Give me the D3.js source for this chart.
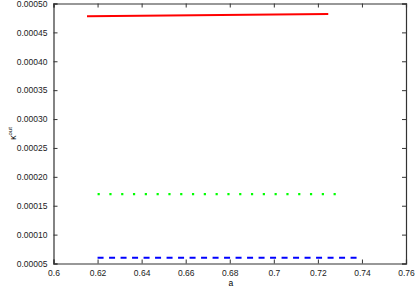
<!DOCTYPE html>
<html>
<head>
<meta charset="utf-8">
<script src="https://cdn.jsdelivr.net/npm/d3@7"></script>
<style>
body { margin: 0; background: #fff; }
svg { font-family: "Liberation Sans", Arial, sans-serif; }
.axis text { font-size: 8.5px; fill: #222; }
.axis path, .axis line { stroke: #333; }
</style>
</head>
<body>
<svg width="415" height="288"></svg>
<script>
var xTicks = [0.6, 0.62, 0.64, 0.66, 0.68, 0.7, 0.72, 0.74, 0.76],
	yTicks = [0.00005, 0.0001, 0.00015, 0.0002, 0.00025, 0.0003, 0.00035, 0.0004, 0.00045, 0.0005];

// three series
var redA = [0.6152, 0.7247],
	redK = [0.000478, 0.000482],
	greenA = [0.62, 0.7282],
	greenK = [0.00017, 0.00017],
	blueA = [0.62, 0.74],
	blueK = [0.00006, 0.00006];

var svg = d3.select("svg"),
	margin = {top: 3.5, right: 9, bottom: 24.5, left: 53.5},
	width = 415 - margin.left - margin.right,
	height = 288 - margin.top - margin.bottom;

var x = d3.scaleLinear().domain([0.6, 0.76]).range([0, width]),
	y = d3.scaleLinear().domain([0.00005, 0.0005]).range([height, 0]);

var g = svg.append("g")
	.attr("transform", "translate(" + margin.left + "," + margin.top + ")");

// axes, ticks on all four sides pointing in
g.append("g")
	.attr("class", "axis")
	.attr("transform", "translate(0," + height + ")")
	.call(d3.axisBottom(x).tickValues(xTicks).tickSize(-4).tickPadding(6).tickFormat(d3.format("")));

g.append("g")
	.attr("class", "axis")
	.call(d3.axisLeft(y).tickValues(yTicks).tickSize(-4).tickPadding(6).tickFormat(d3.format(".5f")));

g.append("g")
	.attr("class", "axis")
	.call(d3.axisTop(x).tickValues(xTicks).tickSize(-4).tickFormat(""));

g.append("g")
	.attr("class", "axis")
	.attr("transform", "translate(" + width + ",0)")
	.call(d3.axisRight(y).tickValues(yTicks).tickSize(-4).tickFormat(""));

g.selectAll(".axis path").attr("stroke-width", 1.2);

// axis titles
svg.append("text")
	.attr("x", margin.left + width / 2 + 1)
	.attr("y", 286)
	.attr("text-anchor", "middle")
	.style("font-size", "8.5px")
	.text("a");

var yl = svg.append("text")
	.attr("transform", "translate(16," + (margin.top + height / 2) + ") rotate(-90)")
	.attr("text-anchor", "middle")
	.style("font-size", "8.5px");
yl.append("tspan").text("\u03ba");
yl.append("tspan").attr("dy", -4).style("font-size", "6px").text("out");

var line = d3.line()
	.x(function(d){ return x(d[0]); })
	.y(function(d){ return y(d[1]); });

g.append("path")
	.datum(d3.zip(redA, redK))
	.attr("d", line)
	.attr("fill", "none")
	.attr("stroke", "#ff0000")
	.attr("stroke-width", 2);

g.append("path")
	.datum(d3.zip(greenA, greenK))
	.attr("d", line)
	.attr("fill", "none")
	.attr("stroke", "#00ff00")
	.attr("stroke-width", 2.2)
	.attr("stroke-dasharray", "2.2,9.6");

g.append("path")
	.datum(d3.zip(blueA, blueK))
	.attr("d", line)
	.attr("fill", "none")
	.attr("stroke", "#0000ff")
	.attr("stroke-width", 2)
	.attr("stroke-dasharray", "6,5.5");
</script>
</body>
</html>
